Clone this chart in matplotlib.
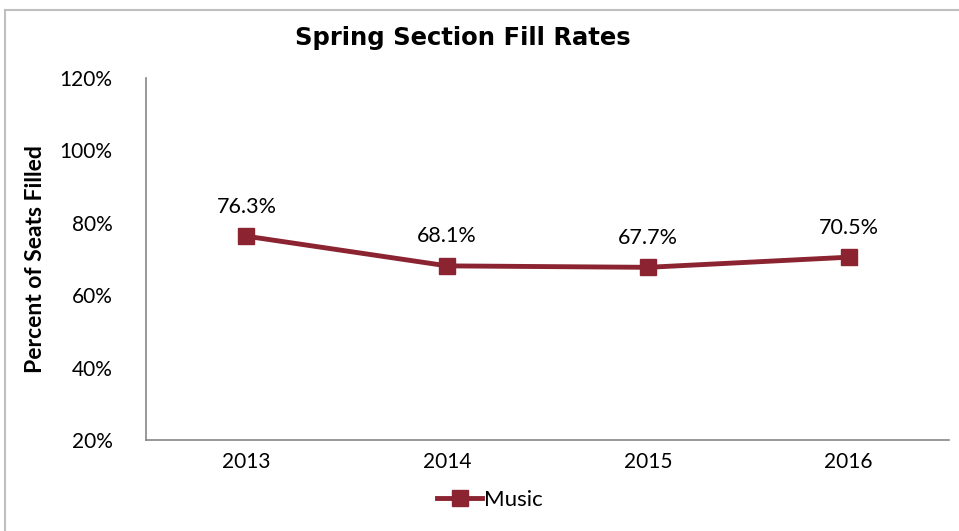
import matplotlib.pyplot as plt
from matplotlib.lines import Line2D

years = ['2013', '2014', '2015', '2016']
music = [76.3, 68.1, 67.7, 70.5]
yticks = [20, 40, 60, 80, 100, 120]

plt.rcParams['font.family'] = ['Lato', 'DejaVu Sans']
red = '#8B2331'

fig = plt.figure(figsize=(9.59, 5.31), dpi=100)
ax = fig.add_axes([146/959, 1-440/531, (949-146)/959, (440-78)/531])

x = range(len(years))
ax.plot(x, music, color=red, lw=3.5, marker='s', markersize=11, label='Music')
for xi, v in zip(x, music):
    ax.annotate(f'{v:.1f}%', (xi, v), xytext=(0, 14), textcoords='offset points',
                ha='center', va='bottom', fontsize=15.5)

ax.set_xlim(-0.5, len(years) - 0.5)
ax.set_ylim(20, 120)
ax.set_xticks(list(x))
ax.set_xticklabels(years)
ax.set_yticks(yticks)
ax.set_yticklabels([f'{t}%' for t in yticks])
ax.tick_params(length=0, labelsize=15, pad=9)
ax.tick_params(axis='y', pad=24)
for s in ['top', 'right']:
    ax.spines[s].set_visible(False)
for s in ['left', 'bottom']:
    ax.spines[s].set_color('#868686')
    ax.spines[s].set_linewidth(1.2)

ax.set_ylabel('Percent of Seats Filled', fontsize=16.5, fontweight='bold', labelpad=10)
fig.text(463/959, 1-38/531, 'Spring Section Fill Rates', ha='center', va='center',
         fontsize=17.5, fontweight='bold', family='DejaVu Sans')

fig.legend(loc='center', bbox_to_anchor=(490/959, 1-500/531), frameon=False,
           fontsize=16, handlelength=2.0, handletextpad=0.1, markerscale=1.1)

# outer chart frame
fig.add_artist(Line2D([5/959, 1], [1-10/531, 1-10/531], color='#BFBFBF', lw=1.5))
fig.add_artist(Line2D([5/959, 5/959], [0, 1-10/531], color='#BFBFBF', lw=1.5))

fig.savefig('out.png', dpi=100)
